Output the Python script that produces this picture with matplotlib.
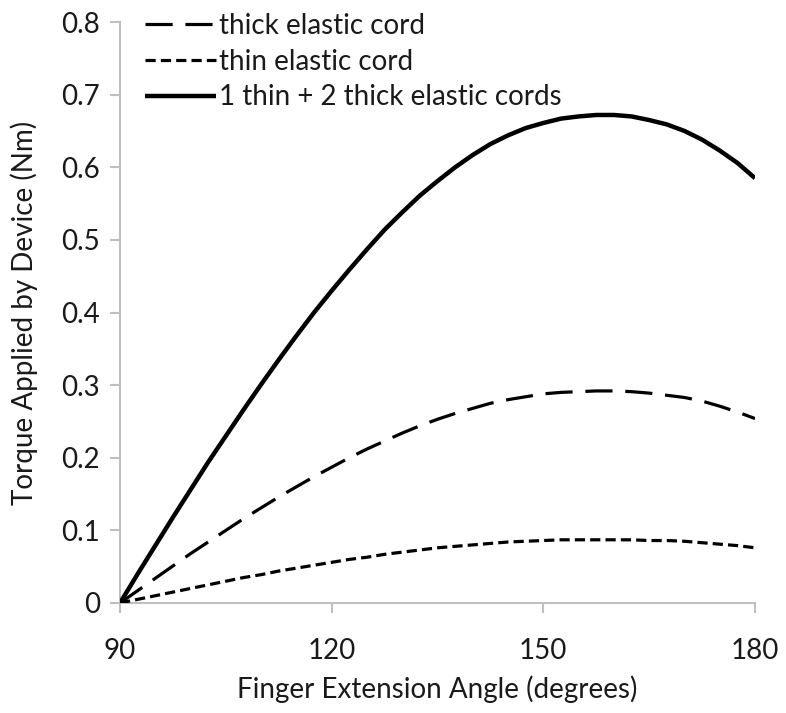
import matplotlib
matplotlib.use("Agg")
import matplotlib.pyplot as plt

angles = [90, 92.5, 95, 97.5, 100, 102.5, 105, 107.5, 110, 112.5, 115, 117.5, 120, 122.5, 125, 127.5,
          130, 132.5, 135, 137.5, 140, 142.5, 145, 147.5, 150, 152.5, 155, 157.5, 160, 162.5, 165,
          167.5, 170, 172.5, 175, 177.5, 180]
thick = [0, 0.017, 0.034, 0.051, 0.068, 0.084, 0.100, 0.116, 0.131, 0.146, 0.160, 0.174, 0.187, 0.200,
         0.212, 0.223, 0.234, 0.244, 0.253, 0.261, 0.268, 0.275, 0.280, 0.284, 0.288, 0.290, 0.291,
         0.292, 0.292, 0.291, 0.289, 0.286, 0.283, 0.278, 0.271, 0.263, 0.254]
thin = [0, 0.005, 0.010, 0.015, 0.020, 0.025, 0.030, 0.035, 0.039, 0.044, 0.048, 0.052, 0.056, 0.060,
        0.063, 0.067, 0.070, 0.073, 0.076, 0.078, 0.080, 0.082, 0.084, 0.085, 0.086, 0.087, 0.087,
        0.087, 0.087, 0.087, 0.086, 0.086, 0.085, 0.083, 0.081, 0.079, 0.076]
combo = [0, 0.040, 0.079, 0.118, 0.156, 0.194, 0.230, 0.266, 0.301, 0.335, 0.368, 0.400, 0.430, 0.459,
         0.487, 0.514, 0.538, 0.561, 0.581, 0.600, 0.617, 0.632, 0.644, 0.654, 0.661, 0.667, 0.670,
         0.672, 0.672, 0.670, 0.665, 0.659, 0.650, 0.638, 0.623, 0.606, 0.585]

labels = ["thick elastic cord", "thin elastic cord", "1 thin + 2 thick elastic cords"]
xticks = [90, 120, 150, 180]
yticks = [0, 0.1, 0.2, 0.3, 0.4, 0.5, 0.6, 0.7, 0.8]
ytick_labels = ["0", "0.1", "0.2", "0.3", "0.4", "0.5", "0.6", "0.7", "0.8"]

plt.rcParams['font.family'] = ['Lato', 'DejaVu Sans']

fig = plt.figure(figsize=(7.86, 7.13), dpi=100)
ax = fig.add_axes([0.1527, 0.1543, 0.8079, 0.8148])

ax.plot(angles, thick, color='black', lw=2.3, dashes=(8.5, 4.0), label=labels[0])
ax.plot(angles, thin, color='black', lw=2.3, dashes=(3.2, 1.6), label=labels[1])
ax.plot(angles, combo, color='black', lw=3.2, label=labels[2], solid_capstyle='butt',
        solid_joinstyle='round')

ax.set_xlim(90, 180)
ax.set_ylim(0, 0.8)
ax.set_xticks(xticks)
ax.set_yticks(yticks)
ax.set_yticklabels(ytick_labels)

for s in ['top', 'right']:
    ax.spines[s].set_visible(False)
for s in ['left', 'bottom']:
    ax.spines[s].set_color('#bfbfbf')
    ax.spines[s].set_linewidth(1.5)
    ax.spines[s].set_zorder(0)

ax.tick_params(axis='both', direction='out', length=7.5, width=1.5, color='#bfbfbf',
               labelsize=20, labelcolor='#1a1a1a')
ax.tick_params(axis='y', pad=7)
ax.tick_params(axis='x', pad=18)

ax.set_xlabel("Finger Extension Angle (degrees)", fontsize=20, color='#1a1a1a', labelpad=8)
ax.set_ylabel("Torque Applied by Device (Nm)", fontsize=20, color='#1a1a1a', labelpad=17)

leg = ax.legend(loc='upper left', bbox_to_anchor=(0.022, 1.035), frameon=False, fontsize=20,
                handlelength=2.55, handletextpad=0.1, labelspacing=0.35, borderaxespad=0)
for t in leg.get_texts():
    t.set_color('#1a1a1a')

fig.savefig("out.png", dpi=100)
